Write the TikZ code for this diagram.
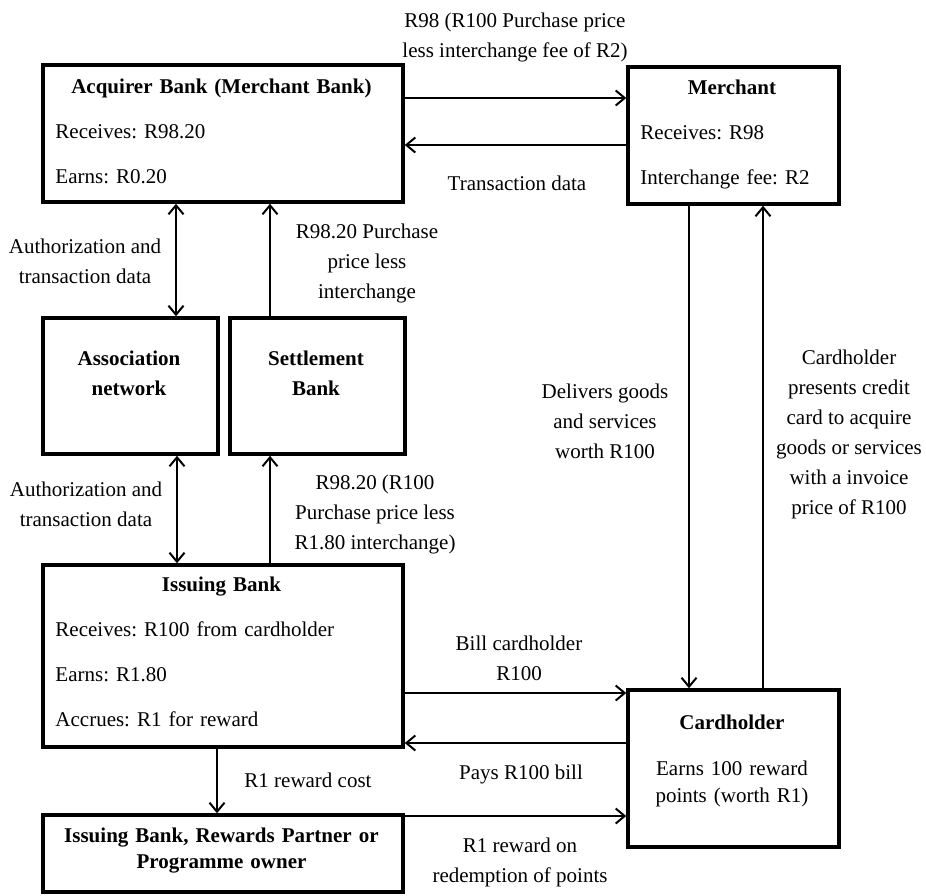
\documentclass[tikz,border=0pt]{standalone}
\usepackage{fontspec}
\setmainfont{Liberation Serif}
\usetikzlibrary{arrows.meta,positioning}
\frenchspacing

\begin{document}
\begin{tikzpicture}[x=1pt,y=-1pt,
  entity/.style={draw,rectangle,line width=3.5pt,inner sep=0pt},
  boxtext/.style={anchor=base west,inner sep=0pt,text width=#1,
    font=\fontsize{21}{27}\selectfont},
  lbl/.style={align=center,inner sep=1pt,font=\fontsize{21}{30}\selectfont},
  arrow/.style={-{Straight Barb[length=9pt,width=15pt]},line width=2pt},
  dblarrow/.style={{Straight Barb[length=9pt,width=15pt]}-{Straight Barb[length=9pt,width=15pt]},
    line width=2pt},
]
\useasboundingbox (0,0) rectangle (926,895);

% boxes
\node[entity,minimum width=360pt,minimum height=137pt] (acq) at (223,133.5) {};
\node[entity,minimum width=211pt,minimum height=137pt] (merch) at (733.5,135.5) {};
\node[entity,minimum width=175pt,minimum height=136pt] (assoc) at (130.5,386) {};
\node[entity,minimum width=175pt,minimum height=136pt] (settle) at (317.5,386) {};
\node[entity,minimum width=360pt,minimum height=182pt] (issue) at (223,656) {};
\node[entity,minimum width=360pt,minimum height=77pt] (reward) at (223,853.5) {};
\node[entity,minimum width=211pt,minimum height=157pt] (card) at (733.5,768.5) {};

% box texts
\node[boxtext=332pt] (acqtext) at ([shift={(14,30)}]acq.north west)
  {\centering\textbf{Acquirer Bank (Merchant Bank)}\par\vspace{18pt}
   \raggedright Receives: R98.20\par\vspace{18pt}Earns: R0.20};
\node[boxtext=183pt] (merchtext) at ([shift={(14,29)}]merch.north west)
  {\centering\textbf{Merchant}\par\vspace{18pt}
   \raggedright Receives: R98\par\vspace{18pt}Interchange fee: R2};
\node[boxtext=147pt,align=center] (assoctext) at ([shift={(14,49)}]assoc.north west)
  {\bfseries Association\\[3pt]network};
\node[boxtext=147pt,align=center] (settletext) at ([shift={(14,49)}]settle.north west)
  {\bfseries Settlement\\[3pt]Bank};
\node[boxtext=332pt] (issuetext) at ([shift={(14,28)}]issue.north west)
  {\centering\textbf{Issuing Bank}\par\vspace{18pt}
   \raggedright Receives: R100 from cardholder\par\vspace{18pt}
   Earns: R1.80\par\vspace{18pt}Accrues: R1 for reward};
\node[boxtext=332pt,align=center] (rewardtext) at ([shift={(14,29)}]reward.north west)
  {\bfseries Issuing Bank, Rewards Partner or\\[-1pt]Programme owner};
\node[boxtext=183pt,align=center] (cardtext) at ([shift={(14,41)}]card.north west)
  {\textbf{Cardholder}\\[19pt]Earns 100 reward\\points (worth R1)};

% connectors
\draw[arrow] ([yshift=35.5pt]acq.east) -- ([yshift=35.5pt]acq.east -| merch.west);
\draw[arrow] ([yshift=-11.5pt]acq.east -| merch.west) -- ([yshift=-11.5pt]acq.east);
\draw[dblarrow] ([xshift=45.5pt]assoc.north) -- ([xshift=45.5pt]assoc.north |- acq.south);
\draw[arrow] ([xshift=-47.5pt]settle.north) -- ([xshift=-47.5pt]settle.north |- acq.south);
\draw[dblarrow] ([xshift=46.5pt]assoc.south) -- ([xshift=46.5pt]assoc.south |- issue.north);
\draw[arrow] ([xshift=-47.5pt]settle.south |- issue.north) -- ([xshift=-47.5pt]settle.south);
\draw[arrow] ([xshift=-6pt]issue.south) -- ([xshift=-6pt]reward.north);
\draw[arrow] ([yshift=-37pt]issue.east) -- ([yshift=-37pt]issue.east -| card.west);
\draw[arrow] ([yshift=-87pt]issue.east -| card.west) -- ([yshift=-87pt]issue.east);
\draw[arrow] ([yshift=37.5pt]reward.east) -- ([yshift=37.5pt]reward.east -| card.west);
\draw[arrow] ([xshift=-44.5pt]merch.south) -- ([xshift=-44.5pt]card.north);
\draw[arrow] ([xshift=29.5pt]card.north) -- ([xshift=29.5pt]merch.south);

% labels
\node[lbl] (lblpay) at (515,37) {R98 (R100 Purchase price\\less interchange fee of R2)};
\node[lbl] (lbldata) at (517,183) {Transaction data};
\node[lbl] (lblauthup) at (85,261) {Authorization and\\transaction data};
\node[lbl] (lblsettleup) at (367,263) {R98.20 Purchase\\price less\\interchange};
\node[lbl] (lblauthdown) at (86,504) {Authorization and\\transaction data};
\node[lbl] (lblsettledown) at (375,514) {R98.20 (R100\\Purchase price less\\R1.80 interchange)};
\node[lbl] (lbldeliver) at (605,421) {Delivers goods\\and services\\worth R100};
\node[lbl] (lblpresent) at (849,434) {Cardholder\\presents credit\\card to acquire\\goods or services\\with a invoice\\price of R100};
\node[lbl] (lblbill) at (519,658) {Bill cardholder\\R100};
\node[lbl] (lblpays) at (521,774) {Pays R100 bill};
\node[lbl] (lblcost) at (308,780) {R1 reward cost};
\node[lbl] (lblredeem) at (520,862) {R1 reward on\\redemption of points};
\end{tikzpicture}
\end{document}
